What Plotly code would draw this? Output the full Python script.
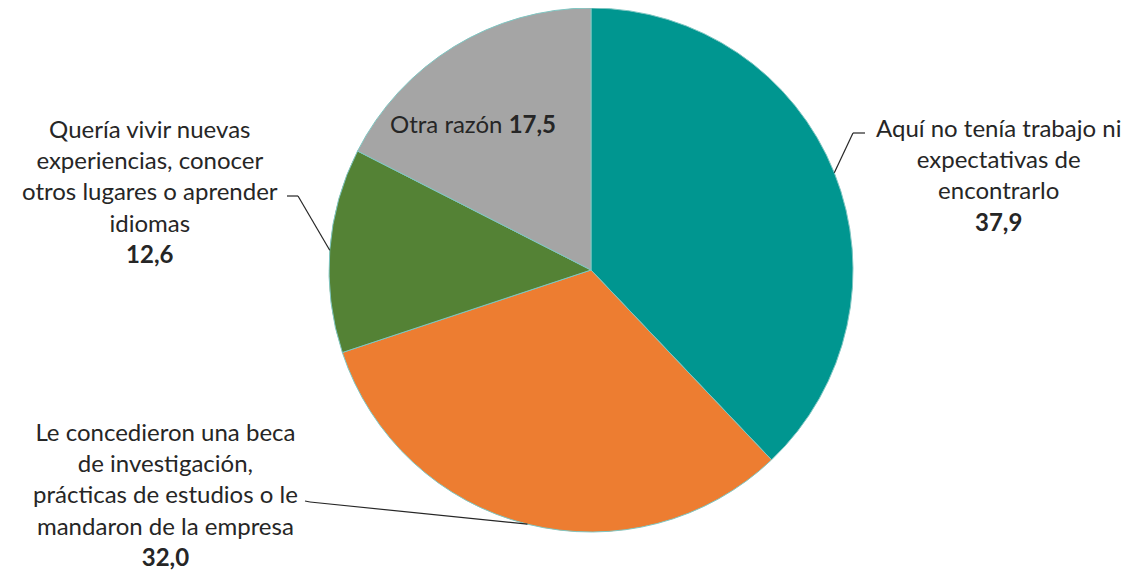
import math
import plotly.graph_objects as go

W, H = 1135, 574

categories = [
    "Aquí no tenía trabajo ni<br>expectativas de<br>encontrarlo",
    "Le concedieron una beca<br>de investigación,<br>prácticas de estudios o le<br>mandaron de la empresa",
    "Quería vivir nuevas<br>experiencias, conocer<br>otros lugares o aprender<br>idiomas",
    "Otra razón",
]
values = [37.9, 32.0, 12.6, 17.5]
colors = ["#009690", "#ED7D31", "#548235", "#A5A5A5"]

# pie geometry in screen pixels
cx, cy, R = 591, 270, 262
OFF = 8  # page body margin: the figure is drawn 8px right and down on screen

fig = go.Figure(go.Pie(
    values=values,
    labels=[c.replace("<br>", " ") for c in categories],
    sort=False,
    direction="clockwise",
    rotation=0,
    marker=dict(colors=colors, line=dict(color="#7fc6c2", width=1)),
    textinfo="none",
    hoverinfo="label+value",
    domain=dict(x=[(cx - OFF - R) / W, (cx - OFF + R) / W],
                y=[1 - (cy - OFF + R) / H, 1 - (cy - OFF - R) / H]),
    showlegend=False,
))

def px(x, y):
    return (x - OFF) / W, 1 - (y - OFF) / H

def fmt(v):
    return f"{v:.1f}".replace(".", ",")

# label positions (screen pixel centre of text block) and elbow points for leader lines
label_pos = [(998, 175), (165, 494), (150, 191), (473, 123)]
elbows = [[(853, 133), (865, 133)], [(310, 502), (305, 501)], [(298, 196), (287, 196)], None]

font = dict(family="Lato, Carlito, Calibri, sans-serif", size=24, color="#262626")

cum = 0
for i, (cat, v) in enumerate(zip(categories, values)):
    mid = (cum + v / 2) / sum(values) * 2 * math.pi
    cum += v
    ex = cx + R * math.sin(mid)
    ey = cy - R * math.cos(mid)
    lx, ly = label_pos[i]
    x, y = px(lx, ly)
    if elbows[i] is None:
        fig.add_annotation(x=x, y=y, xref="paper", yref="paper", showarrow=False,
                           text=f"{cat} <b>{fmt(v)}</b>", font=font, xanchor="center", yanchor="middle")
        continue
    fig.add_annotation(x=x, y=y, xref="paper", yref="paper", showarrow=False,
                       text=f"{cat}<br><b>{fmt(v)}</b>", font=font, align="center",
                       xanchor="center", yanchor="middle")
    pts = [(ex, ey)] + elbows[i]
    for (x0, y0), (x1, y1) in zip(pts[:-1], pts[1:]):
        a0 = px(x0, y0)
        a1 = px(x1, y1)
        fig.add_shape(type="line", xref="paper", yref="paper", x0=a0[0], y0=a0[1], x1=a1[0], y1=a1[1],
                      line=dict(color="#262626", width=1.2))

fig.update_layout(
    width=W, height=H,
    margin=dict(l=0, r=0, t=0, b=0),
    paper_bgcolor="white",
    plot_bgcolor="white",
)

fig.write_html("out.html")
